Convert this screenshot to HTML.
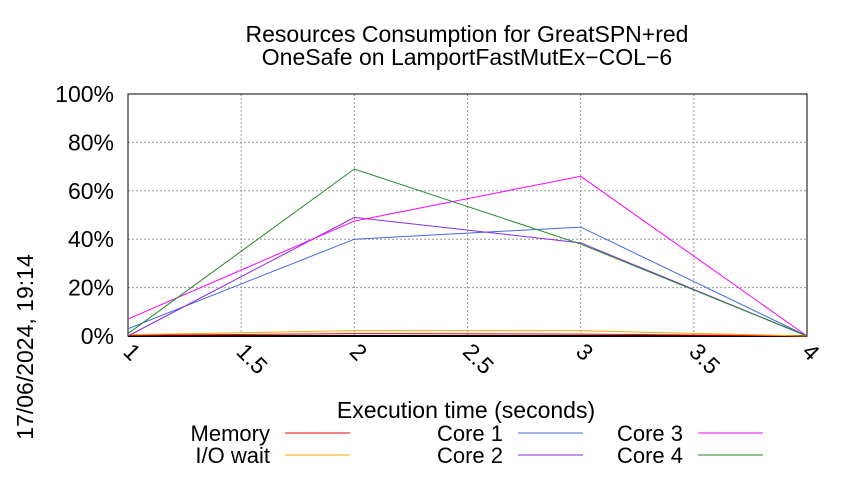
<!DOCTYPE html>
<html><head><meta charset="utf-8"><style>
body{margin:0;background:#fff;}
text{font-family:"Liberation Sans",sans-serif;fill:#000;}
</style></head><body>
<svg width="850" height="475" xmlns="http://www.w3.org/2000/svg">
<g>
<text x="467" y="42" font-size="23" text-anchor="middle">Resources Consumption for GreatSPN+red</text>
<text x="467" y="65" font-size="23" text-anchor="middle">OneSafe on LamportFastMutEx−COL−6</text>
</g>
<g id="grid"></g>
<g id="axes"></g>
<g id="series"></g>
<text x="466" y="418" font-size="23" text-anchor="middle">Execution time (seconds)</text>
<text transform="translate(33,347) rotate(-90)" font-size="23" text-anchor="middle">17/06/2024, 19:14</text>
<g id="legend"></g>
</svg>
<script>
const xs=[1,2,3,4];
const memory=[0.3,1,0.8,0];
const iowait=[0.5,2.2,2.2,0];
const core1=[3,40,45,0];
const core2=[0,49,38.5,0];
const core3=[7,47.5,66,0];
const core4=[1,69,38,0];
const xTicks=[1,1.5,2,2.5,3,3.5,4];
const xTickLabels=["1","1.5","2","2.5","3","3.5","4"];
const yTicks=[0,20,40,60,80,100];
const yTickLabels=["0%","20%","40%","60%","80%","100%"];
const L=128,R=807,T=94,B=336;
const X=v=>L+(v-1)/3*(R-L);
const Y=v=>B-v/100*(B-T);
const NS="http://www.w3.org/2000/svg";
function mk(tag,attrs,parent,txt){const e=document.createElementNS(NS,tag);for(const k in attrs)e.setAttribute(k,attrs[k]);if(txt!==undefined)e.textContent=txt;parent.appendChild(e);return e;}
const grid=document.getElementById('grid'),axes=document.getElementById('axes'),ser=document.getElementById('series'),leg=document.getElementById('legend');
yTicks.forEach((t,i)=>{
 const g=mk('line',{x1:L,x2:R,y1:Y(t),y2:Y(t),stroke:'#999','stroke-dasharray':'2,2','stroke-width':1},grid);
 
 
 const l=mk('text',{x:L-14,y:Y(t)+8,'font-size':23,'text-anchor':'end'},axes,yTickLabels[i]);
 
 
});
xTicks.forEach((t,i)=>{
 const g=mk('line',{x1:X(t),x2:X(t),y1:T,y2:B,stroke:'#999','stroke-dasharray':'2,2','stroke-width':1},grid);
 
 
 const l=mk('text',{transform:`translate(${X(t)-6},${B+17}) rotate(45)`,'font-size':23},axes,xTickLabels[i]);
 
 
});
const box=mk('rect',{x:L,y:T,width:R-L,height:B-T,fill:'none',stroke:'#000','stroke-width':1},axes);


const bl=mk('line',{x1:L,x2:R,y1:B,y2:B,stroke:'#000','stroke-width':2},axes);


const series=[
 ['Memory',memory,'#ff0000',285,433,270],
 ['I/O wait',iowait,'#ffa500',285,455,270],
 ['Core 1',core1,'#4169e1',518,433,503],
 ['Core 2',core2,'#8a2be2',518,455,503],
 ['Core 3',core3,'#ff00ff',698,433,683],
 ['Core 4',core4,'#228b22',698,455,683]];
series.forEach(s=>{
 const p=mk('polyline',{points:xs.map((x,i)=>X(x)+','+Y(s[1][i])).join(' '),fill:'none',stroke:s[2],'stroke-width':1},ser);
 
 
 const t=mk('text',{x:s[5],y:s[4]+8,'font-size':22,'text-anchor':'end'},leg,s[0]);
 
 
 const ln=mk('line',{x1:s[3],x2:s[3]+65,y1:s[4],y2:s[4],stroke:s[2],'stroke-width':1},leg);
 
 
});
</script>
</body></html>
